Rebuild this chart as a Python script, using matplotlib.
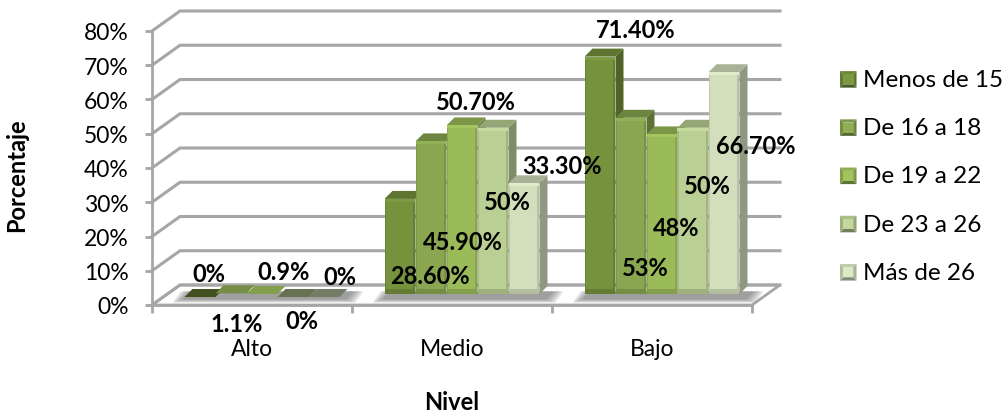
import matplotlib
matplotlib.use('Agg')
import matplotlib.pyplot as plt
from matplotlib.legend_handler import HandlerPatch
from matplotlib.patches import Polygon, Rectangle
from matplotlib.colors import to_rgb

plt.rcParams['font.family'] = ['Lato', 'DejaVu Sans']

W, H = 1006, 414

niveles = ['Alto', 'Medio', 'Bajo']
edades = ['Menos de 15', 'De 16 a 18', 'De 19 a 22', 'De 23 a 26', 'Más de 26']
valores = [
    [0, 28.6, 71.4],
    [1.1, 45.9, 53],
    [0.9, 50.7, 48],
    [0, 50, 50],
    [0, 33.3, 66.7],
]
etiquetas = [
    ['0%', '28.60%', '71.40%'],
    ['1.1%', '45.90%', '53%'],
    ['0.9%', '50.70%', '48%'],
    ['0%', '50%', '50%'],
    ['0%', '33.30%', '66.70%'],
]
yticks = [0, 10, 20, 30, 40, 50, 60, 70, 80]
colores = ['#76923c', '#8aa650', '#9bbb59', '#b9cf94', '#d3dfbc']

# centro de cada etiqueta en pixeles, colocadas a mano como en el original
pos_etiquetas = [
    [(209, 275), (430, 277), (636, 31)],
    [(237, 324), (463, 243), (645, 268)],
    [(284, 272), (476, 102), (676, 229)],
    [(302, 322), (507, 203), (707, 187)],
    [(340, 278), (562, 167), (756, 147)],
]

GRIS = '#a6a6a6'


def caja(l, t, r, b):
    return [l / W, 1 - b / H, (r - l) / W, (b - t) / H]


def tono(c, f):
    return tuple(min(1, v * f) for v in to_rgb(c))


class Bisel(HandlerPatch):
    # cuadrito del legend con cuatro caras, como el bisel de Excel
    def create_artists(self, legend, orig, x0, y0, width, height, fontsize, trans):
        c = orig.get_facecolor()
        s = height
        y0 = y0 - 1
        b_in = s * 0.2
        a, b, d, e = (x0, y0), (x0 + s, y0), (x0 + s, y0 + s), (x0, y0 + s)
        ia, ib = (x0 + b_in, y0 + b_in), (x0 + s - b_in, y0 + b_in)
        id_, ie = (x0 + s - b_in, y0 + s - b_in), (x0 + b_in, y0 + s - b_in)
        caras = [([e, d, id_, ie], 0.92), ([a, b, ib, ia], 0.62), ([a, e, ie, ia], 0.85),
                 ([b, d, id_, ib], 0.8), ([ia, ib, id_, ie], 1.05)]
        out = []
        for pts, f in caras:
            out.append(Polygon(pts, facecolor=tono(c, f), edgecolor='none', transform=trans))
        return out


fig = plt.figure(figsize=(W / 100, H / 100), dpi=100)

# paredes y piso
ax = fig.add_axes(caja(152, 32, 752, 306))
ax.set_xlim(0, 3)
ax.set_ylim(0, 80)
ax.patch.set_alpha(0)
dx, dy = 0.14, 5.84
ax.add_patch(Polygon([(0, 0), (3, 0), (3 + dx, dy), (dx, dy)], closed=True, facecolor='white',
                     edgecolor=GRIS, linewidth=2, clip_on=False, zorder=1))
for v in yticks:
    ax.plot([0, dx, 3 + dx], [v, v + dy, v + dy], color=GRIS, linewidth=2.2, clip_on=False,
            zorder=1, solid_joinstyle='miter')
for s in ['top', 'right']:
    ax.spines[s].set_visible(False)
for s in ['left', 'bottom']:
    ax.spines[s].set_color(GRIS)
    ax.spines[s].set_linewidth(2)
ax.set_yticks(yticks)
ax.set_yticklabels([f'{v}%' for v in yticks], fontsize=16.5, color='black')
ax.tick_params(axis='y', length=5, width=2, color=GRIS, pad=12)
ax.set_xticks([0, 1, 2, 3])
ax.set_xticklabels([])
ax.tick_params(axis='x', which='major', length=6, width=2, color=GRIS)
ax.set_xticks([0.5, 1.5, 2.5], minor=True)
ax.set_xticklabels(niveles, minor=True, fontsize=16.5)
ax.tick_params(axis='x', which='minor', length=0, pad=24)

# columnas, en otro eje porque estan a media profundidad
ab = fig.add_axes(caja(162, 29, 762, 295))
ab.set_xlim(0, 3)
ab.set_ylim(0, 80)
ab.axis('off')
ab.patch.set_alpha(0)

ancho = 0.155
prof_x, prof_y = 0.04, 2.4

for g in range(len(niveles)):
    # sombra en el piso
    x0 = g + 0.5 - 2.5 * ancho
    for k in range(6):
        m = 0.06 - k * 0.01
        ab.add_patch(Polygon([(x0 - m, -2.6 + k * 0.2), (x0 + 5 * ancho + 0.02 + m, -2.6 + k * 0.2),
                              (x0 + 5 * ancho + 0.06 + m, 0.8), (x0 - m + 0.04, 0.8)],
                             closed=True, facecolor='#707070', alpha=0.16, edgecolor='none',
                             clip_on=False, zorder=2))
    for i in range(len(edades)):
        v = valores[i][g]
        c = colores[i]
        x = x0 + i * ancho
        z = 3 + g + i * 0.1
        if v < 2:
            # columnas casi vacias: solo se ve la tapa, pegada al piso
            v0 = v - 0.9
            ab.add_patch(Polygon([(x, v0), (x + ancho, v0), (x + ancho + prof_x, v0 + prof_y),
                                  (x + prof_x, v0 + prof_y)], closed=True,
                                 facecolor=tono(c, 0.55 if v < 0.5 else 0.85), edgecolor='none',
                                 zorder=z, clip_on=False))
            continue
        ab.add_patch(Polygon([(x + ancho, 0), (x + ancho + prof_x, prof_y),
                              (x + ancho + prof_x, v + prof_y), (x + ancho, v)],
                             closed=True, facecolor=tono(c, 0.68), edgecolor='none', zorder=z))
        ab.add_patch(Polygon([(x, v), (x + ancho, v), (x + ancho + prof_x, v + prof_y), (x + prof_x, v + prof_y)],
                             closed=True, facecolor=tono(c, 0.8), edgecolor='none', zorder=z, clip_on=False))
        ab.bar(x, v, ancho * 0.98, align='edge', color=c, zorder=z)
        # bisel de la cara frontal
        ab.bar(x, v, ancho * 0.05, align='edge', color=tono(c, 0.9), zorder=z)
        ab.bar(x + ancho * 0.93, v, ancho * 0.05, align='edge', color=tono(c, 0.88), zorder=z)
        ab.bar(x, 1.4, ancho * 0.98, align='edge', color=tono(c, 0.85), zorder=z)
        ab.bar(x, 0.9, ancho * 0.98, bottom=v - 0.9, align='edge', color=tono(c, 1.06), zorder=z)

# etiquetas de datos
for i in range(len(edades)):
    for g in range(len(niveles)):
        px, py = pos_etiquetas[i][g]
        fig.text(px / W, 1 - py / H, etiquetas[i][g], fontsize=17, fontweight='bold',
                 ha='center', va='center', zorder=20, color='black')

fig.text(17 / W, 1 - 175 / H, 'Porcentaje', fontsize=17, fontweight='bold', rotation=90,
         ha='center', va='center')
fig.text(452 / W, 1 - 403 / H, 'Nivel', fontsize=17, fontweight='bold', ha='center', va='center')

manejadores = [Rectangle((0, 0), 1, 1, facecolor=c) for c in colores]
ley = fig.legend(manejadores, edades, loc='upper left', bbox_to_anchor=(840 / W, 1 - 70 / H),
                 frameon=False, fontsize=17.5, labelspacing=1.12, handlelength=0.67, handleheight=0.67,
                 handletextpad=0.28, borderpad=0, borderaxespad=0,
                 handler_map={Rectangle: Bisel()})

fig.savefig('out.png', dpi=100)
